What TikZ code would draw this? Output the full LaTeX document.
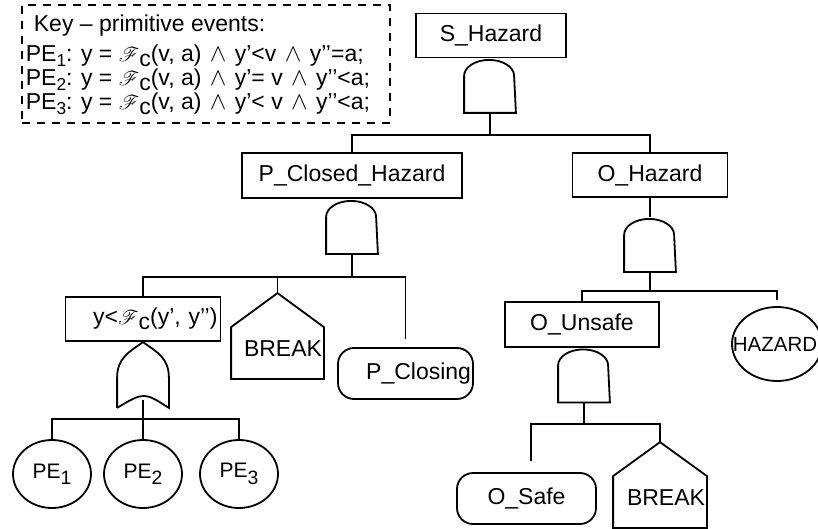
\documentclass[tikz,border=0pt]{standalone}
\usepackage{fontspec}
\setmainfont{Liberation Sans}
\usepackage{mathrsfs}
\usepackage{tikz}
\usetikzlibrary{shapes.geometric,calc}
\newcommand{\low}[2][0.75]{\raisebox{-0.2em}{\scalebox{#1}{#2}}}
\newcommand{\lowpe}[1]{\raisebox{-0.3em}{\scalebox{0.92}{#1}}}
\newcommand{\fc}{\scalebox{0.8}{$\mathscr{F}$}\raisebox{-5pt}{c}}
\newcommand{\andsym}{~\hspace{2pt}$\wedge$~\hspace{2pt}}

\begin{document}
\begin{tikzpicture}[x=1pt,y=1pt,line width=1.8pt,font=\fontsize{23}{27}\selectfont]
\tikzset{evbox/.style={draw,minimum height=44pt,inner sep=2pt},
gate/.style={minimum width=50pt,minimum height=53pt,inner sep=0pt},
basic/.style={draw,ellipse,minimum width=78pt,minimum height=68pt,inner sep=0pt,font=\fontsize{21}{24}\selectfont},
undev/.style={draw,rounded corners=16pt,minimum height=51pt,inner sep=2pt},
house/.style={minimum width=91pt,minimum height=50pt,text width=89pt,inner xsep=1pt,align=right,text depth=9pt},
keytxt/.style={anchor=base west,inner sep=0pt},
keyframe/.style={draw,dash pattern=on 8pt off 7pt,inner sep=0pt}}
\useasboundingbox (0,0) rectangle (818,-529);

% key of primitive events
\node[keyframe,minimum width=368pt,minimum height=118pt] (keybox) at (206,-64) {};
\node[keytxt] (keyhd) at (33,-32) {Key – primitive events:};
\node[keytxt] (pe1def) at (25,-62) {PE\low{1}: y = \fc(v, a)\andsym y’<v\andsym y’’=a;};
\node[keytxt] (pe2def) at (25,-86) {PE\low{2}: y = \fc(v, a)\andsym y’= v\andsym y’’<a;};
\node[keytxt] (pe3def) at (25,-110) {PE\low{3}: y = \fc(v, a)\andsym y’< v\andsym y’’<a;};

% top of the tree
\node[evbox,minimum width=150pt] (shaz) at (491,-35.5) {S\_Hazard};
\node[gate] (g1) at (490,-85.5) {};
\node[evbox,minimum width=220pt,minimum height=45pt] (pch) at (352,-175.5) {P\_Closed\_Hazard};
\node[evbox,minimum width=155pt] (ohaz) at (650,-175) {O\_Hazard};

% left branch
\node[gate] (g2) at (352,-226.5) {};
\node[evbox,minimum width=155pt,text width=149pt,align=right,inner xsep=3pt] (cond) at (143,-319) {y<\fc(y’, y’’)};
\node[house] (brk1) at (277.5,-353) {BREAK};
\node[undev,minimum width=135pt,text width=131pt,align=right] (pcl) at (405.5,-373.5) {P\_Closing};
\node[gate,minimum height=64pt] (og) at (143,-375) {};
\node[basic] (pe1) at (52,-474) {PE\lowpe{1}};
\node[basic] (pe2) at (143,-474) {PE\lowpe{2}};
\node[basic] (pe3) at (239,-474) {PE\lowpe{3}};

% right branch
\node[gate] (g3) at (650,-244.5) {};
\node[evbox,minimum width=154pt,minimum height=45pt] (ouns) at (582,-324.5) {O\_Unsafe};
\node[draw,ellipse,minimum width=90pt,minimum height=74pt,inner sep=0pt] (haz) at (777,-344) {\makebox[0pt]{\hspace*{-4pt}\fontsize{20.5}{24}\selectfont HAZARD}};
\node[gate] (g4) at (584,-375) {};
\node[undev,minimum width=139pt] (osafe) at (526.5,-498.5) {O\_Safe};
\node[house,minimum width=92pt,text width=90pt] (brk2) at (660,-502) {BREAK};

% gate and house outlines
\foreach \g in {g1,g2,g3,g4}
  \draw (\g.south west) -- ++(0,37) arc[start angle=180,end angle=0,x radius=25,y radius=16] -- (\g.south east) -- cycle;
\draw (og.south west) -- ++(0,30) .. controls +(0,20) and +(-14,-10) .. (og.north) .. controls +(14,-10) and +(0,20) .. ($(og.south east)+(0,30)$) -- (og.south east) .. controls +(-25,16) .. (og.south west);
\foreach \h in {brk1,brk2}
  \draw (\h.south west) -- (\h.north west) -- ($(\h.north)+(0,34)$) -- (\h.north east) -- (\h.south east) -- cycle;

% connectors
\draw (g1.south) -- ++(0,-22) -| (pch.north);
\draw (g1.south) -- ++(0,-22) -| (ohaz.north);
\draw (ohaz) -- (g3);
\draw (g2.south) -- ++(0,-23) -| (cond.north);
\draw (g2.south) -- ++(0,-23) -| ($(brk1.north)+(0,34)$);
\draw (g2.south) -- ++(0,-23) -| ($(pcl.north)+(0,8)$);
\draw ($(og.south)+(0,8)$) -- ++(0,-19) -| (pe1.north);
\draw ($(og.south)+(0,8)$) -- ++(0,-19) -| (pe2.north);
\draw ($(og.south)+(0,8)$) -- ++(0,-19) -| (pe3.north);
\draw (g3.south) -- ++(0,-19) -| (ouns.north);
\draw (g3.south) -- ++(0,-19) -| ($(haz.north)+(0,6)$);
\draw (g4.south) -- ++(0,-21.5) -| ($(osafe.north)+(4.5,11)$);
\draw (g4.south) -- ++(0,-21.5) -| ($(brk2.north)+(0,34)$);
\end{tikzpicture}
\end{document}
